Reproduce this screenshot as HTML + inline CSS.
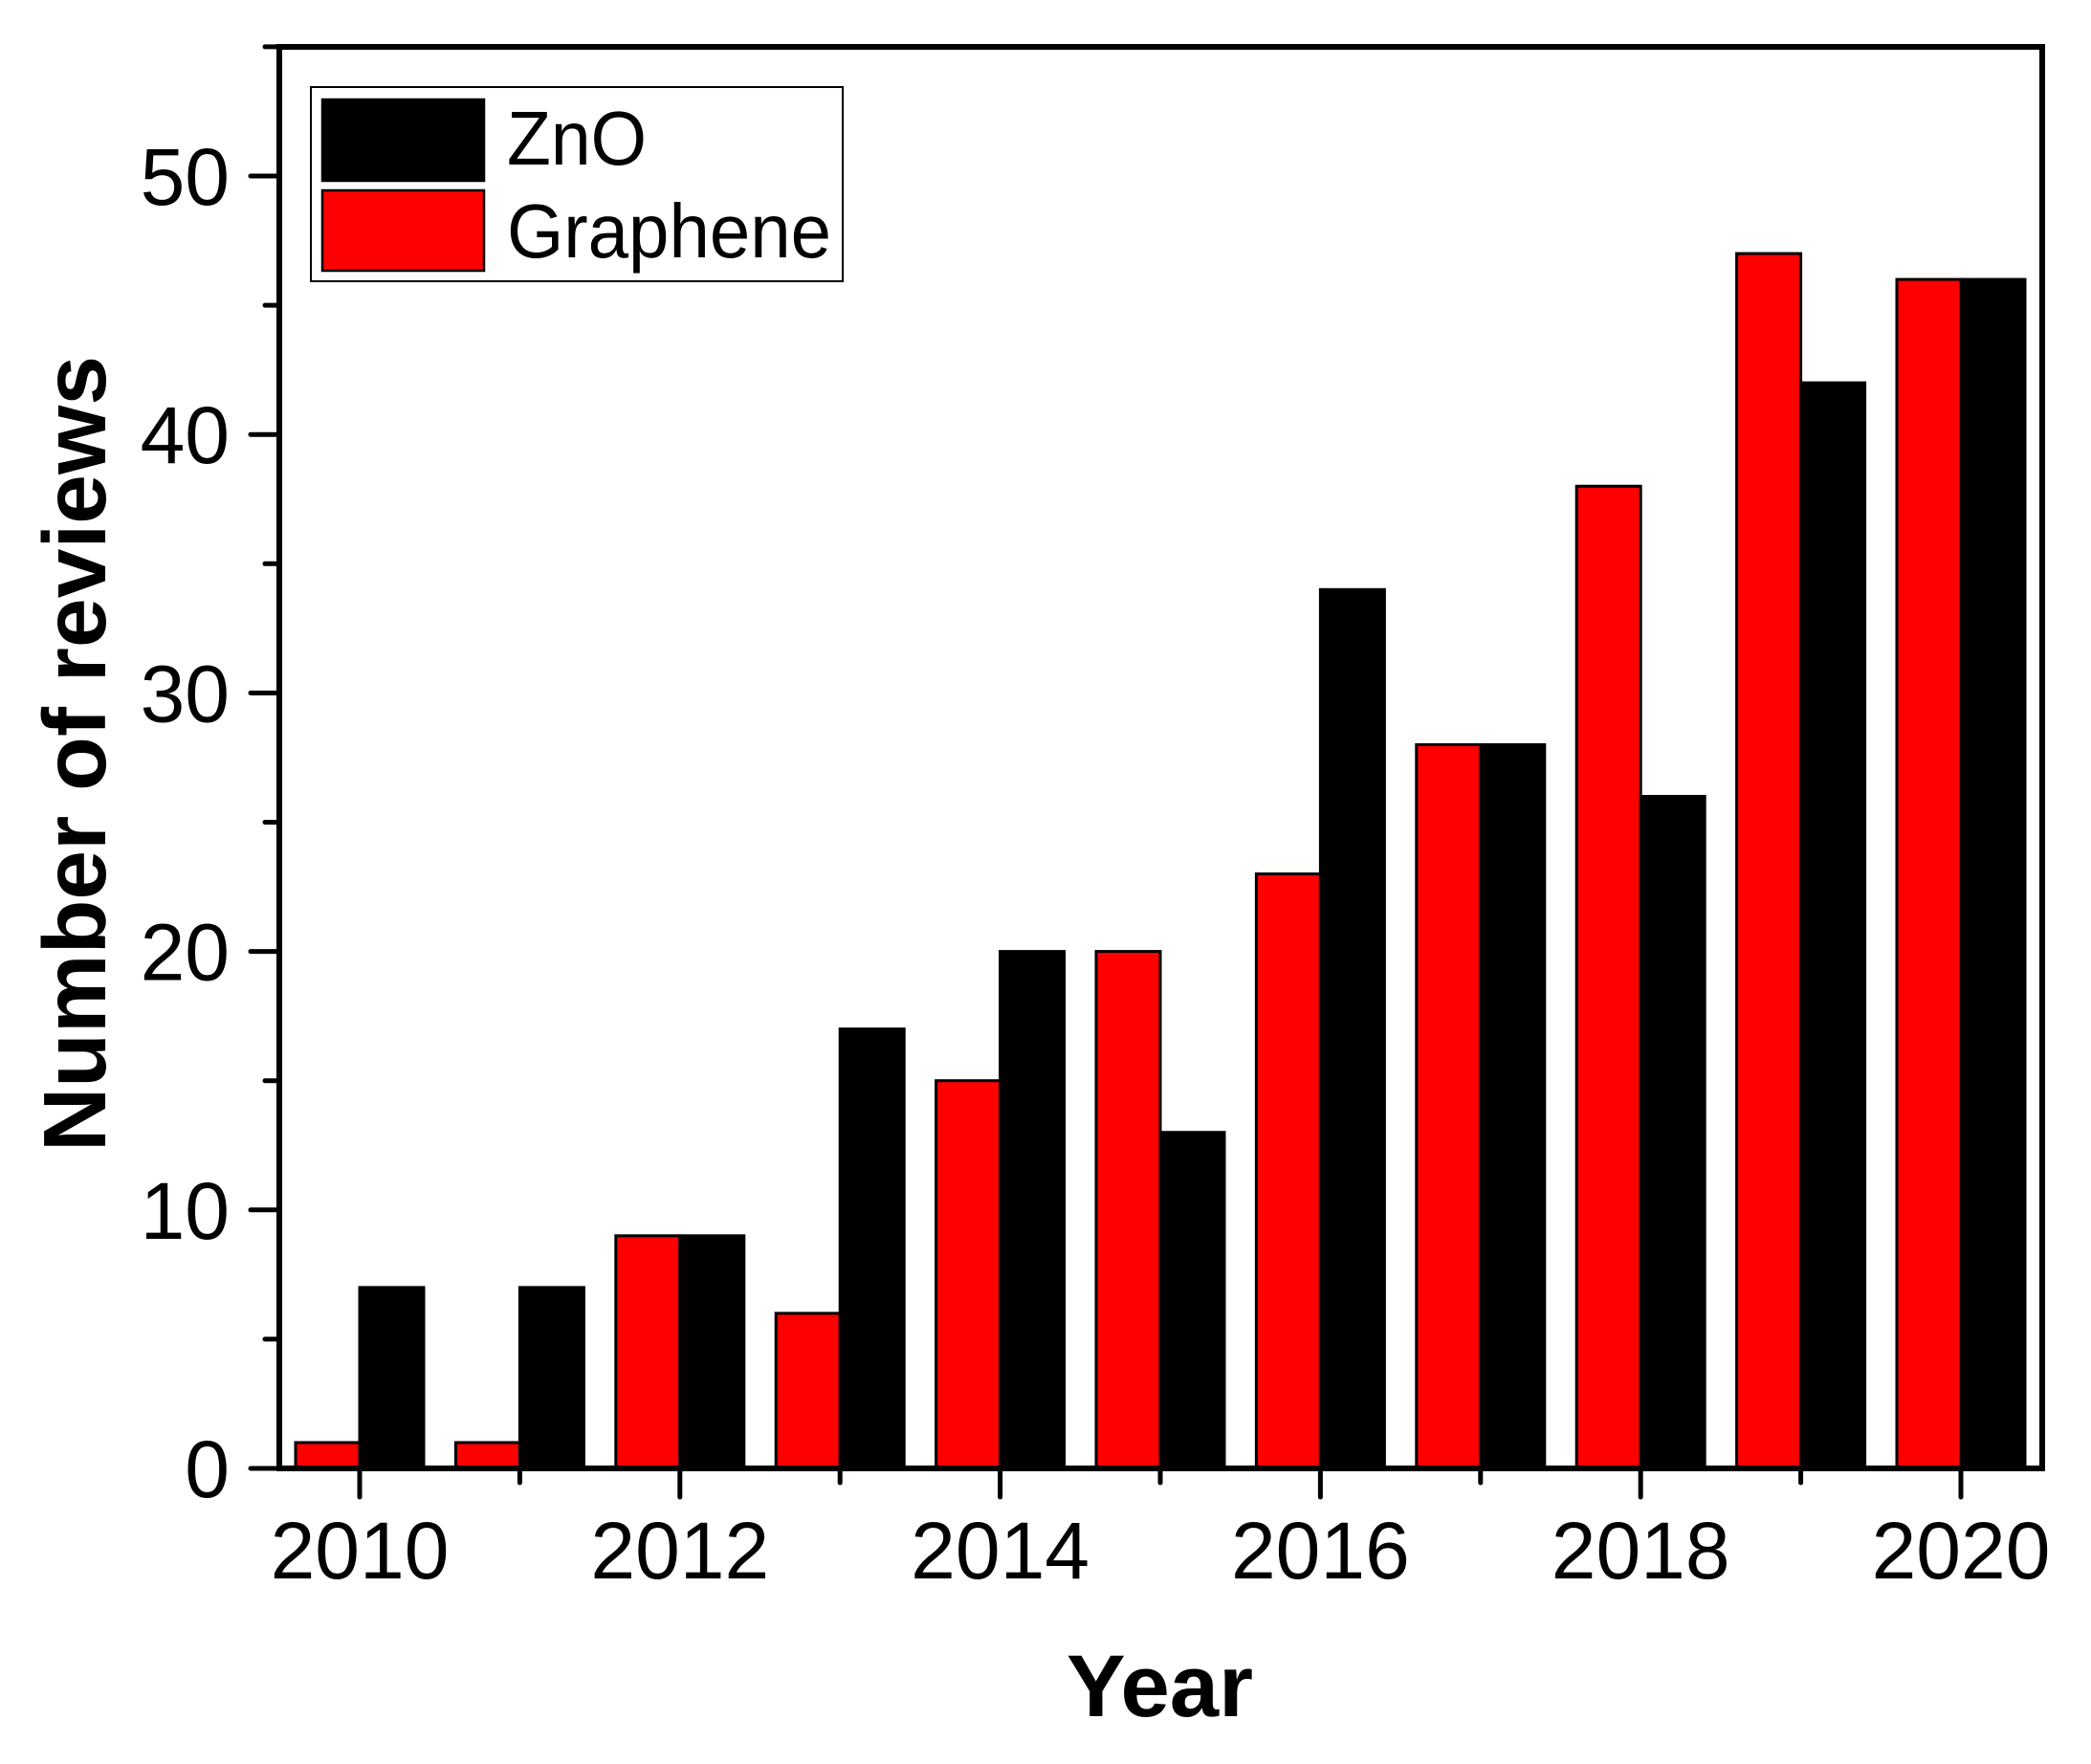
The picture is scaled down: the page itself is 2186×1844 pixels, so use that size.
<!DOCTYPE html>
<html><head><meta charset="utf-8"><style>
html,body{margin:0;padding:0;background:#fff;}
svg{display:block;font-family:"Liberation Sans",sans-serif;}
</style></head><body>
<svg id="chart" width="2186" height="1844" viewBox="0 0 2186 1844"></svg>
<script>
const years = [2010,2011,2012,2013,2014,2015,2016,2017,2018,2019,2020];
const graphene = [1,1,9,6,15,20,23,28,38,47,46];
const zno = [7,7,9,17,20,13,34,28,26,42,46];
const yTicks = [0,10,20,30,40,50];
const xTickLabels = [2010,2012,2014,2016,2018,2020];

const L=292,R=2135,T=49,B=1535;
const x = v => 376 + (v-2010)*167.4;
const y = v => B - v*27.02;
const bw = 67;
const svg = document.getElementById('chart');
const NS='http://www.w3.org/2000/svg';
function mk(tag, attrs, parent){const e=document.createElementNS(NS,tag);for(const k in attrs)e.setAttribute(k,attrs[k]);(parent||svg).appendChild(e);return e;}

for(let i=0;i<years.length;i++){
  const r=mk('rect',{x:x(years[i])-bw,y:y(graphene[i]),width:bw,height:B-y(graphene[i]),fill:'#ff0000',stroke:'#000','stroke-width':3});
  
  
  const k=mk('rect',{x:x(years[i]),y:y(zno[i]),width:bw,height:B-y(zno[i]),fill:'#000',stroke:'#000','stroke-width':3});
  
  
}
const frame=mk('rect',{x:L,y:T,width:R-L,height:B-T,fill:'none',stroke:'#000','stroke-width':6});



for(let v=0;v<=55;v+=5){
  const major=v%10===0;
  const t=mk('line',{x1:L-(major?30:15),x2:L,y1:y(v),y2:y(v),stroke:'#000','stroke-width':5,'stroke-linecap':'round'});
  
  
}
yTicks.forEach(v=>{
  const t=mk('text',{x:240,y:y(v)+30,'text-anchor':'end','font-size':84});
  t.textContent=v;
  
  
});
years.forEach(yr=>{
  const major=(yr-2010)%2===0;
  const t=mk('line',{x1:x(yr),x2:x(yr),y1:B,y2:B+(major?30:15),stroke:'#000','stroke-width':5,'stroke-linecap':'round'});
  
  
});
xTickLabels.forEach(v=>{
  const t=mk('text',{x:x(v),y:1650,'text-anchor':'middle','font-size':84});
  t.textContent=v;
  
  
});
</script>
<svg style="position:absolute;left:0;top:0" width="2186" height="1844">
  <text x="1115" y="1794" textLength="195" lengthAdjust="spacingAndGlyphs" font-size="92" font-weight="bold" font-family="Liberation Sans, sans-serif">Year</text>
  <text transform="translate(110,788) rotate(-90)" text-anchor="middle" font-size="93" font-weight="bold" font-family="Liberation Sans, sans-serif">Number of reviews</text>
  <g>
    <rect x="325" y="91" width="556" height="203" fill="#fff" stroke="#000" stroke-width="2"/>
    <rect x="337" y="104" width="169" height="85" fill="#000" stroke="#000" stroke-width="2.5"/>
    <text x="530" y="172" textLength="146" lengthAdjust="spacingAndGlyphs" font-size="80" font-family="Liberation Sans, sans-serif">ZnO</text>
    <rect x="337" y="199" width="169" height="84" fill="#ff0000" stroke="#000" stroke-width="2.5"/>
    <text x="530" y="269" textLength="339" lengthAdjust="spacingAndGlyphs" font-size="80" font-family="Liberation Sans, sans-serif">Graphene</text>
  </g>
</svg>
</body></html>
